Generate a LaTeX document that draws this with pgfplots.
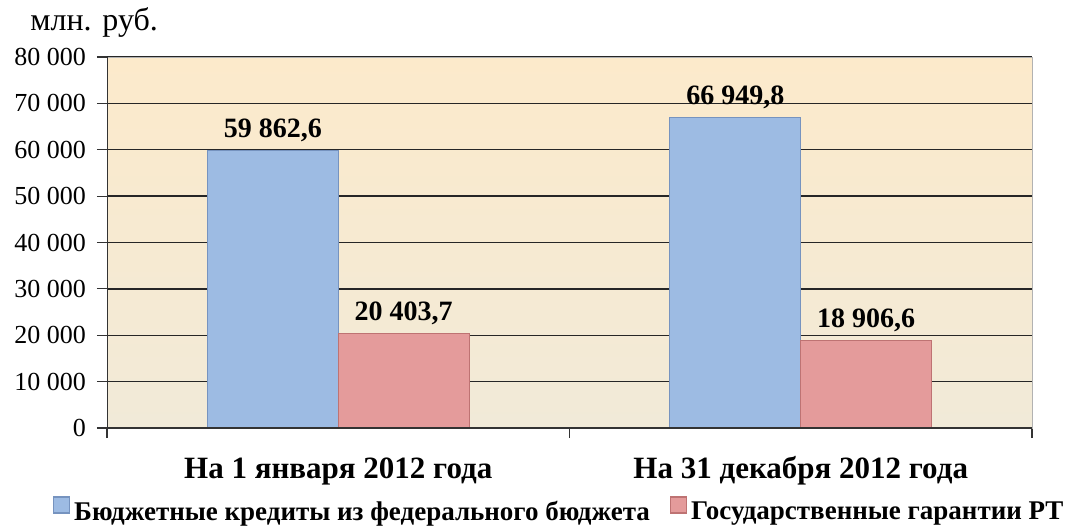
\documentclass[border=0pt]{standalone}
\usepackage{pgfplots}
\pgfplotsset{compat=1.18}
\usepackage{fontspec}
\setmainfont{Liberation Serif}
\definecolor{barblue}{HTML}{9DBBE3}
\definecolor{barblueD}{HTML}{7693BF}
\definecolor{barpink}{HTML}{E49B9B}
\definecolor{barpinkD}{HTML}{BE7373}
\definecolor{bgtop}{HTML}{FCEACB}
\definecolor{bgbot}{HTML}{F1EAD8}
\begin{document}
\begin{tikzpicture}
\useasboundingbox (0,0) rectangle (535pt,265.5pt);
\node[anchor=base west, font=\fontsize{16}{18}\selectfont, inner sep=0pt] at (15pt,250pt) {млн. руб.};
\begin{axis}[
  at={(53.5pt,51.5pt)}, anchor=south west,
  scale only axis, width=462.5pt, height=185.5pt,
  ybar=0pt, bar width=0.283,
  xmin=-0.5, xmax=1.5, ymin=0, ymax=80000,
  scaled y ticks=false,
  ytick={0,10000,...,80000},
  yticklabels={0,10 000,20 000,30 000,40 000,50 000,60 000,70 000,80 000},
  yticklabel style={font=\fontsize{13}{15}\selectfont, xshift=-2pt},
  ymajorgrids, grid style={black!85, line width=0.7pt},
  xtick={-0.5,0.5,1.5}, xticklabels={},
  xtick pos=bottom, ytick pos=left,
  extra x ticks={0,1},
  extra x tick labels={На 1 января 2012 года, На 31 декабря 2012 года},
  extra x tick style={major tick length=0pt, tick label style={font=\bfseries\fontsize{15.5}{18}\selectfont, anchor=base, yshift=-25pt}},
  tick align=outside, major tick length=5pt,
  tick style={black!80, line width=0.6pt},
  axis line style={black!30},
  axis background/.style={top color=bgtop, bottom color=bgbot},
  nodes near coords,
  point meta=explicit symbolic,
  every node near coord/.append style={font=\bfseries\fontsize{14}{16}\selectfont, yshift=0.5pt},
  legend columns=2,
  legend style={at={(0.49,-0.226)}, anchor=center, draw=none, fill=none,
    font=\bfseries\fontsize{13.5}{15}\selectfont,
    /tikz/every even column/.append style={column sep=8pt}},
  legend image code/.code={\fill[#1] (0pt,-0.5pt) rectangle (8pt,7.5pt);},
]
\addplot[fill=barblue, draw=barblueD, line width=0.6pt] coordinates {(0,59862.6) [59 862,6] (1,66949.8) [66 949,8]};
\addplot[fill=barpink, draw=barpinkD, line width=0.6pt] coordinates {(0,20403.7) [20 403,7] (1,18906.6) [18 906,6]};
\legend{Бюджетные кредиты из федерального бюджета, Государственные гарантии РТ}
\draw[black!80, line width=0.8pt] (rel axis cs:0,0) -- (rel axis cs:0,1);
\draw[black!80, line width=0.8pt] (rel axis cs:0,0) -- (rel axis cs:1,0);
\end{axis}
\end{tikzpicture}
\end{document}
